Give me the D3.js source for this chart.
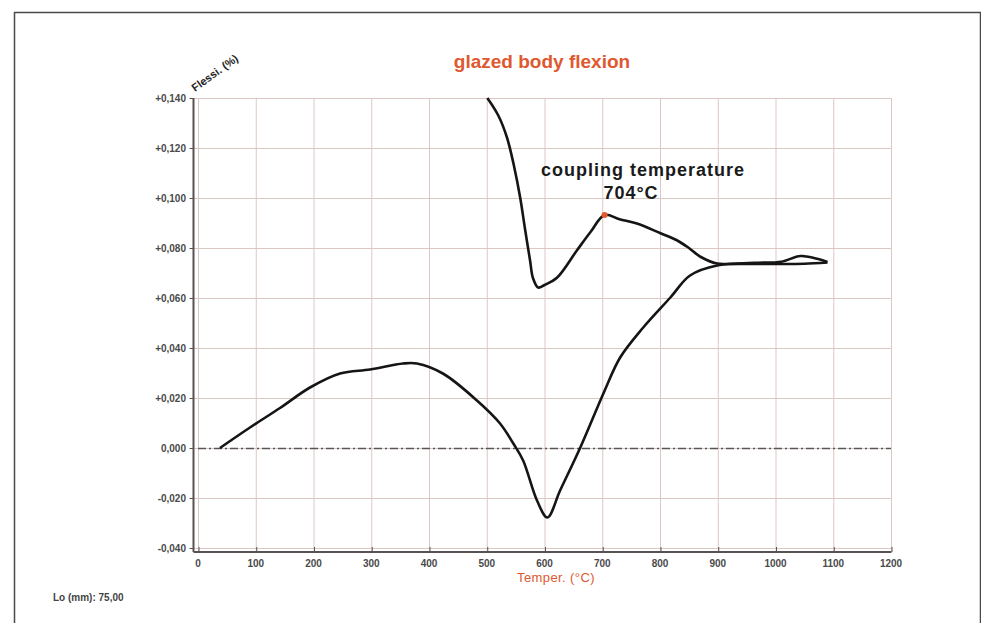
<!DOCTYPE html>
<html lang="en">
<head>
    <meta charset="UTF-8">
    <title>glazed body flexion</title>
    <script src="https://d3js.org/d3.v7.min.js"></script>
    <style>
        body { margin: 0; background: #fff; }
        text { font-family: "Liberation Sans", Arial, sans-serif; }
        .grid line { stroke: #dcc8c2; stroke-width: 1; }
        .axis path, .axis line { stroke: #5a5252; }
        .tick-label { font-size: 10px; font-weight: bold; fill: #4a4a4a; }
    </style>
</head>
<body>
    <div id="chart-container"></div>
    <script>
        // tick values and labels
        const tempTicks = [0, 100, 200, 300, 400, 500, 600, 700, 800, 900, 1000, 1100, 1200];
        const flexTicks = [-0.04, -0.02, 0, 0.02, 0.04, 0.06, 0.08, 0.10, 0.12, 0.14];
        const flexTickLabels = ["-0,040", "-0,020", "0,000", "+0,020", "+0,040", "+0,060", "+0,080", "+0,100", "+0,120", "+0,140"];

        // heating branch (°C, %)
        const heatTemp = [38, 90, 142, 194, 246, 298, 355, 379, 424, 483, 523, 546, 563, 587, 605, 627, 662, 702, 731, 771, 818, 852, 899, 950, 1000, 1050, 1090];
        const heatFlex = [0, 0.0082, 0.016, 0.0242, 0.0298, 0.0314, 0.0338, 0.0338, 0.0298, 0.019, 0.0098, 0.0018, -0.005, -0.021, -0.0278, -0.017, 0.0002, 0.0218, 0.0362, 0.0482, 0.0602, 0.069, 0.073, 0.0736, 0.0736, 0.0737, 0.0742];

        // cooling branch (°C, %)
        const coolTemp = [501, 520, 535, 547, 558, 566, 575, 580, 589, 600, 622, 656, 680, 704, 730, 760, 800, 830, 850, 870, 899, 930, 970, 1010, 1043, 1070, 1090];
        const coolFlex = [0.140, 0.133, 0.1242, 0.113, 0.100, 0.088, 0.075, 0.068, 0.0642, 0.0652, 0.0682, 0.079, 0.0865, 0.0932, 0.0915, 0.0898, 0.086, 0.083, 0.080, 0.0765, 0.0738, 0.0738, 0.0741, 0.0745, 0.0768, 0.0758, 0.0744];

        const couplingTemp = 704;
        const couplingFlex = 0.0932;

        const width = 981, height = 623;

        const svg = d3.select("#chart-container")
            .append("svg")
            .attr("width", width)
            .attr("height", height);

        // outer frame
        svg.append("rect")
            .attr("x", 14.5).attr("y", 12.5)
            .attr("width", 966).attr("height", 640)
            .attr("fill", "none")
            .attr("stroke", "#4a4a4a")
            .attr("stroke-width", 1.5);

        const x = d3.scaleLinear().domain([0, 1200]).range([198, 891]);
        const y = d3.scaleLinear().domain([-0.04, 0.14]).range([548, 98]);

        // grid
        const grid = svg.append("g").attr("class", "grid");
        grid.selectAll(".vg").data(tempTicks).enter().append("line")
            .attr("x1", d => x(d) + 0.5).attr("x2", d => x(d) + 0.5)
            .attr("y1", y(0.14)).attr("y2", 551);
        grid.selectAll(".hg").data(flexTicks).enter().append("line")
            .attr("x1", 193).attr("x2", x(1200))
            .attr("y1", d => y(d) + 0.5).attr("y2", d => y(d) + 0.5);

        // axes
        const xAxis = svg.append("g")
            .attr("class", "axis")
            .attr("transform", "translate(0.5, 552)")
            .call(d3.axisBottom(x).tickValues(tempTicks).tickSize(-5).tickSizeOuter(0).tickFormat(""));
        xAxis.select(".domain").attr("d", `M193,0H${x(1200)}`).attr("stroke-width", 2);

        const yAxis = svg.append("g")
            .attr("class", "axis")
            .attr("transform", "translate(193.5, 0)")
            .call(d3.axisLeft(y).tickValues(flexTicks).tickSize(4).tickSizeOuter(0).tickFormat(""));
        yAxis.select(".domain").attr("d", `M0,${y(0.14)}V552`).attr("stroke-width", 2);

        // tick labels
        svg.selectAll(".xl").data(tempTicks).enter().append("text")
            .attr("class", "tick-label")
            .attr("x", d => x(d))
            .attr("y", 567)
            .attr("text-anchor", "middle")
            .text(d => d);

        svg.selectAll(".yl").data(flexTicks).enter().append("text")
            .attr("class", "tick-label")
            .attr("x", 186)
            .attr("y", d => y(d) + 3.5)
            .attr("text-anchor", "end")
            .text((d, i) => flexTickLabels[i]);

        // zero line
        svg.append("line")
            .attr("x1", x(0)).attr("x2", x(1200))
            .attr("y1", y(0) + 0.5).attr("y2", y(0) + 0.5)
            .attr("stroke", "#555")
            .attr("stroke-width", 1.4)
            .attr("stroke-dasharray", "8,3,2,3");

        // curves
        const line = d3.line()
            .x(d => x(d[0]))
            .y(d => y(d[1]))
            .curve(d3.curveCatmullRom.alpha(0.5));

        svg.append("path")
            .datum(heatTemp.map((t, i) => [t, heatFlex[i]]))
            .attr("d", line)
            .attr("fill", "none")
            .attr("stroke", "#151515")
            .attr("stroke-width", 2.6)
            .attr("stroke-linejoin", "round");

        svg.append("path")
            .datum(coolTemp.map((t, i) => [t, coolFlex[i]]))
            .attr("d", line)
            .attr("fill", "none")
            .attr("stroke", "#151515")
            .attr("stroke-width", 2.6)
            .attr("stroke-linejoin", "round");

        // coupling point
        svg.append("circle")
            .attr("cx", x(couplingTemp))
            .attr("cy", y(couplingFlex))
            .attr("r", 3)
            .attr("fill", "#e2572d");

        // titles and labels
        svg.append("text")
            .attr("x", 542).attr("y", 68)
            .attr("text-anchor", "middle")
            .attr("font-size", 19)
            .attr("font-weight", "bold")
            .attr("fill", "#e0582f")
            .text("glazed body flexion");

        svg.append("text")
            .attr("transform", "translate(195, 92) rotate(-36)")
            .attr("font-size", 11)
            .attr("font-weight", "bold")
            .attr("fill", "#222")
            .text("Flessi. (%)");

        svg.append("text")
            .attr("x", 556).attr("y", 582)
            .attr("text-anchor", "middle")
            .attr("font-size", 13)
            .attr("letter-spacing", 0.4)
            .attr("fill", "#e0582f")
            .text("Temper. (°C)");

        svg.append("text")
            .attr("x", 53).attr("y", 601)
            .attr("font-size", 10)
            .attr("font-weight", "bold")
            .attr("fill", "#444")
            .text("Lo (mm): 75,00");

        svg.append("text")
            .attr("x", 643).attr("y", 176)
            .attr("text-anchor", "middle")
            .attr("font-size", 18)
            .attr("letter-spacing", 1)
            .attr("font-weight", "bold")
            .attr("fill", "#1a1a1a")
            .text("coupling temperature");

        svg.append("text")
            .attr("x", 631).attr("y", 199)
            .attr("text-anchor", "middle")
            .attr("font-size", 18)
            .attr("letter-spacing", 1)
            .attr("font-weight", "bold")
            .attr("fill", "#1a1a1a")
            .text("704°C");
    </script>
</body>
</html>
